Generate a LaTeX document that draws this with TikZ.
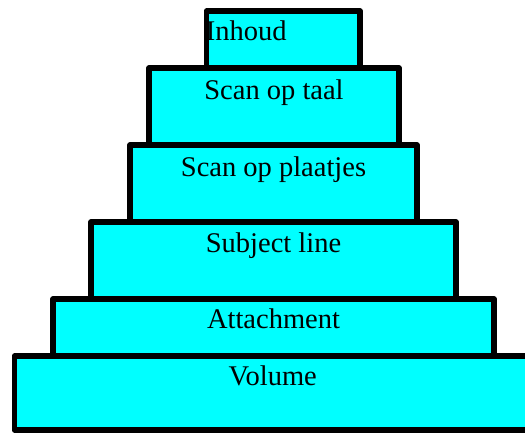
\documentclass[tikz,border=0pt]{standalone}
\usepackage{fontspec}
\setmainfont{Liberation Serif}
\usepackage{xcolor}
\usetikzlibrary{positioning}
\definecolor{tiercyan}{RGB}{0,255,255}

\begin{document}
\begin{tikzpicture}[x=1pt,y=-1pt,
    tier/.style={draw=black,line width=5.5pt,line join=round,fill=tiercyan,inner sep=0pt},
    tiertext/.style={font=\fontsize{28.5}{31}\selectfont,inner sep=0pt,anchor=base}]
  \useasboundingbox (0,0) rectangle (525,433);
  \node[tier,minimum width=516.5pt,minimum height=74pt] (vol) at (272.75,393) {};
  \node[tier,minimum width=441pt,minimum height=57pt] (att) at (273.5,327.5) {};
  \node[tier,minimum width=365pt,minimum height=77pt] (subj) at (273.5,260.5) {};
  \node[tier,minimum width=287pt,minimum height=77pt] (plaat) at (273.5,183.5) {};
  \node[tier,minimum width=250pt,minimum height=77pt] (taal) at (274,106.5) {};
  \node[tier,minimum width=153.5pt,minimum height=57pt] (inh) at (283.25,39.5) {};
  % labels
  \node[tiertext] (volt) at ([yshift=-32.5pt]vol.north) {Volume};
  \node[tiertext] (attt) at ([yshift=-32.5pt]att.north) {Attachment};
  \node[tiertext] (subjt) at ([yshift=-33.5pt]subj.north) {Subject line};
  \node[tiertext] (plaatt) at ([yshift=-34pt]plaat.north) {Scan op plaatjes};
  \node[tiertext] (taalt) at ([yshift=-34pt]taal.north) {Scan op taal};
  \node[tiertext,anchor=base west] (inht) at ([xshift=2pt,yshift=-32.5pt]inh.north west) {Inhoud};
\end{tikzpicture}
\end{document}
